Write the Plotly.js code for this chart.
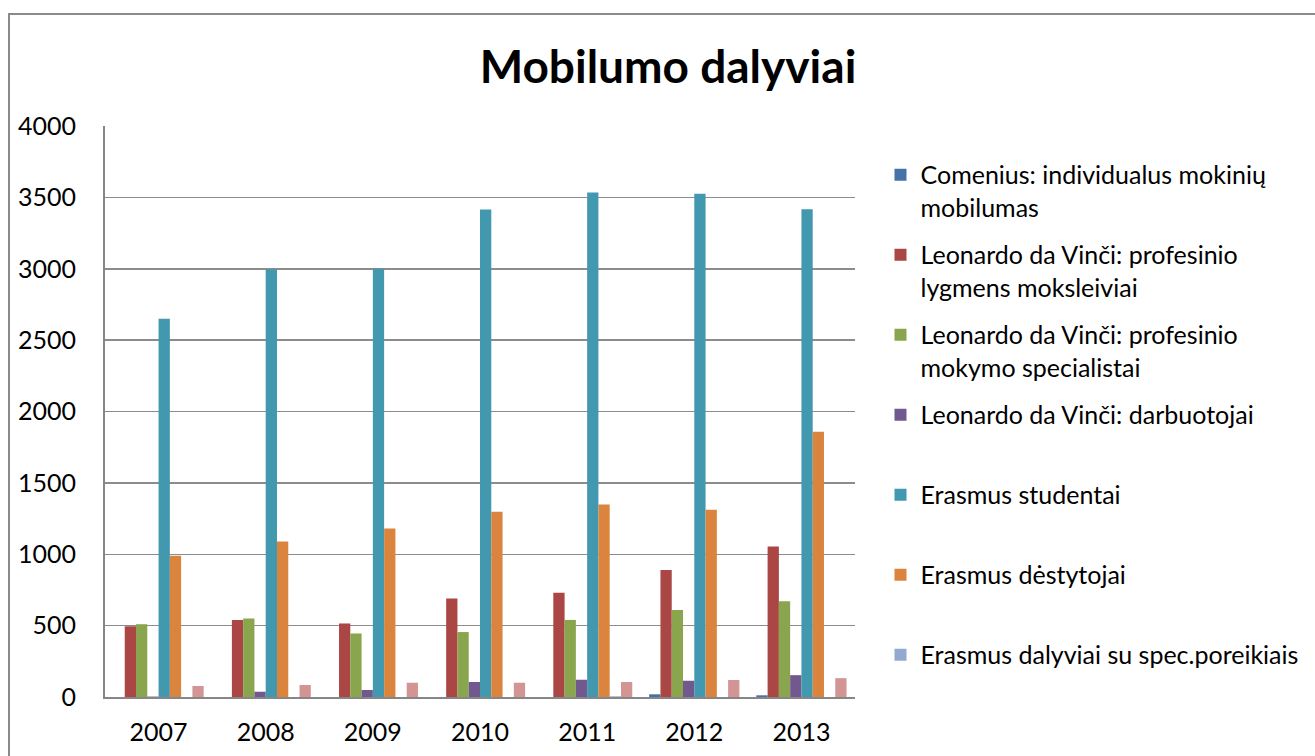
<!DOCTYPE html>
<html>
<head>
<meta charset="utf-8">
<script src="https://cdn.plot.ly/plotly-3.0.1.min.js"></script>
<style>
  html, body { margin: 0; padding: 0; background: #fff; }
  #chart { position: absolute; left: 0; top: 0; width: 1315px; height: 756px; }
  #frame { position: absolute; left: 8px; top: 13px; width: 1400px; height: 800px;
           border-top: 2px solid #8a8a8a; border-left: 2px solid #8a8a8a; pointer-events: none; }
</style>
</head>
<body>
<div id="chart"></div>
<div id="frame"></div>
<script>
const years = ["2007", "2008", "2009", "2010", "2011", "2012", "2013"];

const comenius      = [0, 0, 0, 0, 0, 19, 12];
const ldvMoksleiviai = [495, 540, 515, 690, 730, 890, 1055];
const ldvSpecialistai = [510, 550, 445, 455, 540, 610, 670];
const ldvDarbuotojai = [3, 37, 49, 105, 121, 114, 153];
const erasmusStudentai = [2650, 2995, 3000, 3415, 3535, 3526, 3416];
const erasmusDestytojai = [990, 1090, 1180, 1297, 1348, 1311, 1858];
const erasmusSpec = [0, 0, 0, 0, 5, 0, 0];
const unlistedSeries = [77, 84, 100, 100, 105, 119, 132];

const seriesNames = [
  "Comenius: individualus mokinių<br>mobilumas",
  "Leonardo da Vinči: profesinio<br>lygmens moksleiviai",
  "Leonardo da Vinči: profesinio<br>mokymo specialistai",
  "Leonardo da Vinči: darbuotojai<br> ",
  "Erasmus studentai<br> ",
  "Erasmus dėstytojai<br> ",
  "Erasmus dalyviai su spec.poreikiais<br> ",
  "Kita"
];
const seriesValues = [comenius, ldvMoksleiviai, ldvSpecialistai, ldvDarbuotojai,
  erasmusStudentai, erasmusDestytojai, erasmusSpec, unlistedSeries];
const colors = ["#4572A7", "#AA4643", "#89A54E", "#71588F", "#4198AF", "#DB843D", "#93A9CF", "#D39594"];

const traces = seriesValues.map((vals, i) => ({
  type: "bar",
  x: years,
  y: vals,
  name: seriesNames[i],
  legendgroup: "g" + i,
  showlegend: i < 7,
  marker: { color: colors[i], line: { width: 0 } },
  hoverinfo: "x+y"
}));

const layout = {
  width: 1315,
  height: 756,
  paper_bgcolor: "rgba(0,0,0,0)",
  plot_bgcolor: "rgba(0,0,0,0)",
  margin: { l: 105, r: 457, t: 126, b: 59, pad: 0 },
  font: { family: "Lato, 'Open Sans', sans-serif", size: 25, color: "#000" },
  title: {
    text: "<b>Mobilumo dalyviai</b>",
    font: { family: "Lato, 'Open Sans', sans-serif", size: 46, color: "#000" },
    xref: "container", x: 0.508, xanchor: "center",
    yref: "container", y: 0.911, yanchor: "middle"
  },
  barmode: "group",
  bargap: 0.158,
  bargroupgap: 0,
  xaxis: {
    type: "category",
    showline: true, linecolor: "#868686", linewidth: 2,
    showgrid: false, ticks: "",
    tickfont: { size: 25 },
    ticklabelstandoff: 12
  },
  yaxis: {
    range: [0, 4000], dtick: 500, tick0: 0,
    showline: true, linecolor: "#868686", linewidth: 2,
    showgrid: true, gridcolor: "#8c8c8c", gridwidth: 1.5,
    zeroline: false, ticks: "",
    tickfont: { size: 25 },
    ticklabelstandoff: 22
  },
  legend: {
    x: 1.034, xanchor: "left",
    y: 0.9545, yanchor: "top",
    valign: "top",
    traceorder: "grouped",
    tracegroupgap: 12,
    font: { size: 25, color: "#000" },
    bgcolor: "rgba(0,0,0,0)"
  },
  showlegend: true
};

Plotly.newPlot("chart", traces, layout, { displayModeBar: false, staticPlot: true });
</script>
</body>
</html>
